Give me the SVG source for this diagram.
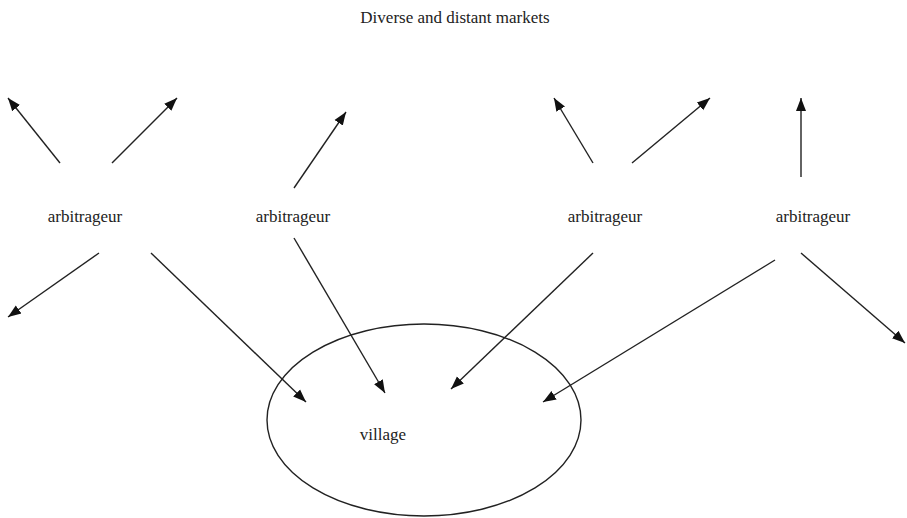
<svg xmlns="http://www.w3.org/2000/svg" width="907" height="518" viewBox="0 0 907 518">
<style>
text{font-family:"Liberation Serif","Times New Roman",serif;font-size:17px;fill:#222;text-anchor:middle}
.c line{stroke:#222;stroke-width:1.4;fill:none;marker-end:url(#ah)}
.c line.n{marker-end:none}
</style>
<defs>
<marker id="ah" markerUnits="userSpaceOnUse" markerWidth="14" markerHeight="12" viewBox="0 0 14 12" refX="13" refY="6" orient="auto">
<path d="M0,1 L13,6 L0,11 Z" fill="#111"/>
</marker>
</defs>
<rect width="907" height="518" fill="#fff"/>
<g id="title"><text x="455" y="23">Diverse and distant markets</text></g>
<g id="village"><ellipse cx="424" cy="420" rx="157" ry="96" fill="none" stroke="#222" stroke-width="1.4"/><text x="383" y="440">village</text></g>
<g id="arb1"><text x="85" y="222">arbitrageur</text></g>
<g id="arb2"><text x="293" y="222">arbitrageur</text></g>
<g id="arb3"><text x="605" y="222">arbitrageur</text></g>
<g id="arb4"><text x="813" y="222">arbitrageur</text></g>
<g id="connectors" class="c">
<line x1="60" y1="163" x2="8" y2="98"/>
<line x1="112" y1="163" x2="177" y2="98"/>
<line x1="99" y1="253" x2="8" y2="317"/>
<line x1="151" y1="253" x2="306" y2="402"/>
<line x1="294" y1="188" x2="346" y2="112"/>
<line x1="294" y1="238" x2="385" y2="393"/>
<line x1="593" y1="163" x2="554" y2="98"/>
<line x1="632" y1="163" x2="710" y2="98"/>
<line x1="593" y1="253" x2="451" y2="389"/>
<line x1="801" y1="177" x2="801" y2="98"/>
<line x1="775" y1="260" x2="543" y2="402"/>
<line x1="801" y1="253" x2="905" y2="343"/>
</g>
</svg>
